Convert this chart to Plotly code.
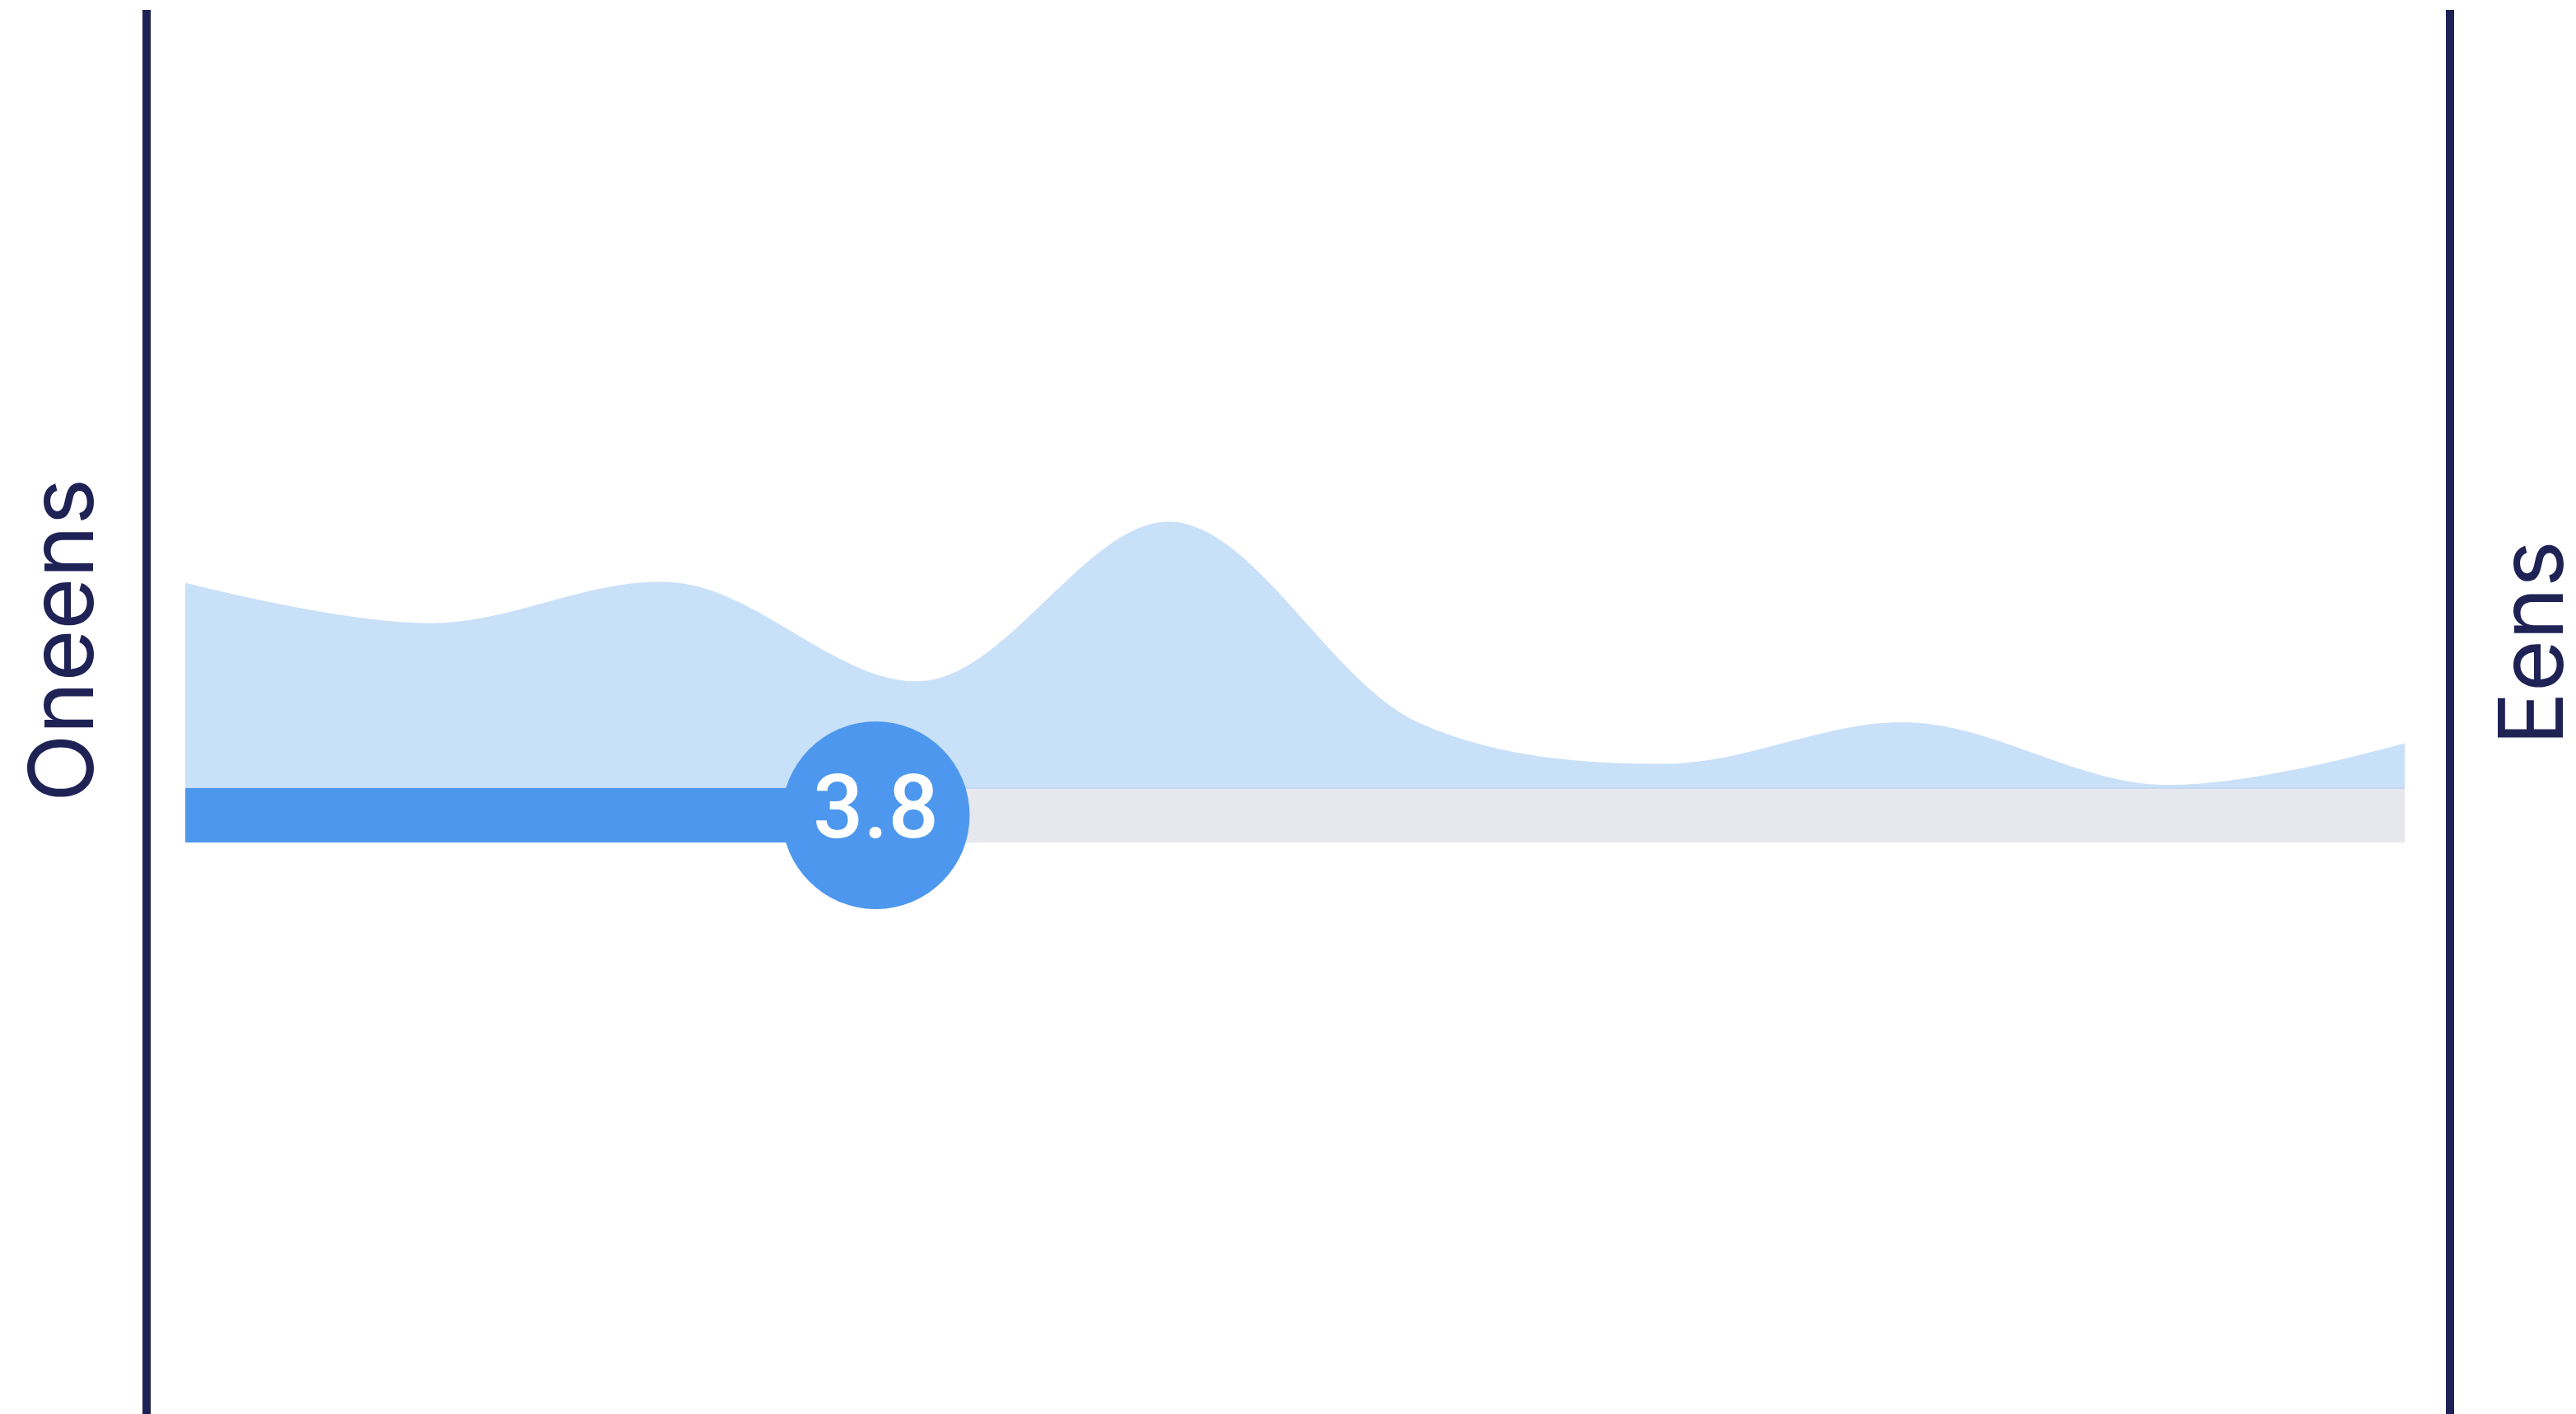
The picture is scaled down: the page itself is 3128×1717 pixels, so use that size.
import plotly.graph_objects as go

# ---- data ----
scale_points = [1, 2, 3, 4, 5, 6, 7, 8, 9, 10]
share_pct = [17.8, 14.3, 17.8, 9.3, 23.1, 5.7, 2.1, 5.7, 0.3, 3.9]
score = 3.8
score_label = f"{score:.1f}"
left_label = "Oneens"
right_label = "Eens"

scale_min, scale_max = scale_points[0], scale_points[-1]

# ---- styles / layout (figure pixels) ----
W, H = 3128, 1717
NAVY = "#1F2255"
AREA = "#C9E0F9"
BLUE = "#4D98EE"
GRAY = "#E7E7EE"
BAR_PX = 66
PX_PER_UNIT_Y = 14.0
BASE_PX = 949          # baseline, from top of figure
X_LEFT_PX, X_RIGHT_PX = 217, 2912
bar_center = -(BAR_PX / 2) / PX_PER_UNIT_Y

fig = go.Figure()

fig.add_trace(go.Scatter(
    x=scale_points, y=share_pct, mode="lines", fill="tozeroy",
    line=dict(color=AREA, width=0, shape="spline", smoothing=1.0),
    fillcolor=AREA, hoverinfo="skip", showlegend=False))

fig.add_trace(go.Scatter(
    x=[scale_min, scale_max], y=[bar_center, bar_center], mode="lines",
    line=dict(color=GRAY, width=BAR_PX), hoverinfo="skip", showlegend=False))

fig.add_trace(go.Scatter(
    x=[scale_min, scale_max], y=[0, 0], mode="lines",
    line=dict(color="#C4D7F0", width=2), hoverinfo="skip", showlegend=False))

fig.add_trace(go.Scatter(
    x=[scale_min, score], y=[bar_center, bar_center], mode="lines",
    line=dict(color=BLUE, width=BAR_PX), hoverinfo="skip", showlegend=False))

fig.add_trace(go.Scatter(
    x=[score], y=[bar_center], mode="markers+text",
    marker=dict(size=228, color=BLUE, line=dict(width=0)),
    text=[score_label], textposition="middle center",
    textfont=dict(family="Roboto", size=108, color="white", weight=500),
    hoverinfo="skip", showlegend=False))

ppu_x = (X_RIGHT_PX - X_LEFT_PX) / (scale_max - scale_min)
x0 = scale_min - X_LEFT_PX / ppu_x
x1 = scale_max + (W - X_RIGHT_PX) / ppu_x
y1 = BASE_PX / PX_PER_UNIT_Y
y0 = -(H - BASE_PX) / PX_PER_UNIT_Y

fig.update_xaxes(range=[x0, x1], visible=False, fixedrange=True)
fig.update_yaxes(range=[y0, y1], visible=False, fixedrange=True)

# vertical boundary lines
for px in (170, 2967):
    fig.add_shape(type="line", xref="paper", yref="paper",
                  x0=px / W, x1=px / W, y0=-0.01, y1=1 - 4 / H,
                  line=dict(color=NAVY, width=10))

fig.add_annotation(x=66 / W, y=1 - 770 / H, xref="paper", yref="paper",
                   xanchor="center", yanchor="middle", borderpad=0,
                   text=left_label, showarrow=False, textangle=-90,
                   font=dict(family="Inter", size=108, color=NAVY))
fig.add_annotation(x=3064 / W, y=1 - 773 / H, xref="paper", yref="paper",
                   xanchor="center", yanchor="middle", borderpad=0,
                   text=right_label, showarrow=False, textangle=-90,
                   font=dict(family="Inter", size=108, color=NAVY))

fig.update_layout(width=W, height=H, margin=dict(l=0, r=0, t=0, b=0),
                  paper_bgcolor="white", plot_bgcolor="white")

fig.write_html("out.html", config={"displayModeBar": False})
